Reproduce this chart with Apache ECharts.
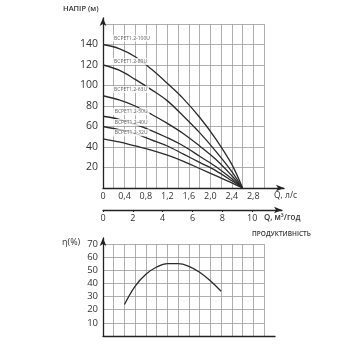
<!DOCTYPE html>
<html><head><meta charset="utf-8">
<script src="https://cdn.jsdelivr.net/npm/echarts@6/dist/echarts.min.js"></script>
<style>html,body{margin:0;padding:0;background:#fff}#c{width:350px;height:350px}</style>
</head><body><div id="c"></div>
<script>
// ---- data ----
const flowQ = [0, 0.3, 0.6, 0.9, 1.2, 1.5, 1.8, 2.1, 2.4, 2.6];
const head100U = [140, 136, 128, 116, 102, 87, 69, 48, 23, 0];
const head80U  = [120, 115, 106, 96, 85, 70, 54, 36, 16, 0];
const head63U  = [90, 86, 80, 72, 63, 53, 41, 28, 12, 0];
const head50U  = [70, 67, 62, 56, 49, 41, 31, 21, 9, 0];
const head40U  = [60, 57, 53, 47, 41, 33, 25, 17, 7, 0];
const head32U  = [48, 45, 41, 37, 32, 26, 19, 12, 5, 0];
const modelNames = ['BCPET1.2-100U','BCPET1.2-80U','BCPET1.2-63U','BCPET1.2-50U','BCPET1.2-40U','BCPET1.2-32U'];
const labelQ = [0.17, 0.17, 0.17, 0.18, 0.18, 0.18];
const labelH = [146, 123.5, 96, 74.5, 64, 54];
const effQ = [0.4, 0.6, 0.8, 1.0, 1.2, 1.4, 1.6, 1.8, 2.0, 2.2];
const effVal = [24, 38, 47, 52.5, 55, 55, 53, 48.5, 42, 34];
const qTicksLs = [0, 0.4, 0.8, 1.2, 1.6, 2.0, 2.4, 2.8];
const qTicksM3 = [0, 2, 4, 6, 8, 10];
const headTicks = [20, 40, 60, 80, 100, 120, 140];
const effTicks = [10, 20, 30, 40, 50, 60, 70];

const heads = [head100U, head80U, head63U, head50U, head40U, head32U];
const FONT = '"Open Sans", sans-serif';
const TXT = '#333';
const GRIDC = '#9a9a9a';
const AX = '#222';

const chart = echarts.init(document.getElementById('c'), null, {renderer:'canvas'});
const fmtQ = v => v === 0 ? '0' : v.toFixed(1).replace('.', ',');
const hidden = {show:false};
const arrowLine = (sym) => ({show:true, lineStyle:{color:AX, width:1.3}, symbol: sym, symbolSize:[5,8]});

const series = [];
heads.forEach((h, i) => {
  series.push({
    type:'line', xAxisIndex:0, yAxisIndex:0, smooth:0.35, showSymbol:false,
    lineStyle:{color:'#2b2b2b', width:1.3}, z:3,
    data: flowQ.map((q, k) => [q, h[k]])
  });
});
series.push({
  type:'scatter', xAxisIndex:0, yAxisIndex:0, symbolSize:0, z:6,
  data: modelNames.map((n, i) => ({value:[labelQ[i], labelH[i]], name:n})),
  label:{show:true, position:'right', distance:0, formatter: p => p.name,
    fontSize:5, fontFamily:FONT, color:TXT, backgroundColor:'#fff', padding:[1,2]}
});
series.push({
  type:'line', xAxisIndex:4, yAxisIndex:4, smooth:0.4, showSymbol:false,
  lineStyle:{color:'#2b2b2b', width:1.3}, z:3,
  data: effQ.map((q, k) => [q, effVal[k]])
});

chart.setOption({
  animation:false,
  grid:[
    {left:103, right:86, top:24, bottom:162},   // 0 head grid
    {left:103, right:66, top:18, bottom:162},   // 1 head arrows
    {left:103, right:68, top:200, height:10},   // 2 m3/h axis
    {left:103, right:75, top:238, bottom:14},   // 3 eff arrows
    {left:103, right:86, top:244, bottom:14}    // 4 eff grid
  ],
  xAxis:[
    {gridIndex:0, type:'value', min:0, max:3.0, interval:0.2,
      axisLine:hidden, axisTick:hidden,
      splitLine:{show:true, lineStyle:{color:GRIDC, width:0.8}},
      axisLabel:{customValues:qTicksLs, formatter:fmtQ, fontSize:9, fontFamily:FONT, color:TXT, margin:4}},
    {gridIndex:1, type:'value', min:0, max:1, axisLine:arrowLine(['none','arrow']),
      axisTick:hidden, axisLabel:hidden, splitLine:hidden},
    {gridIndex:2, type:'value', min:0, max:12, interval:2, position:'bottom',
      axisLine:arrowLine(['none','arrow']),
      axisTick:{show:true, customValues:qTicksM3, length:2, lineStyle:{color:AX}},
      axisLabel:{customValues:qTicksM3, fontSize:9, fontFamily:FONT, color:TXT, margin:4},
      splitLine:hidden},
    {gridIndex:3, type:'value', min:0, max:1, axisLine:{show:true, lineStyle:{color:AX, width:1.3}},
      axisTick:hidden, axisLabel:hidden, splitLine:hidden},
    {gridIndex:4, type:'value', min:0, max:3.0, interval:0.2,
      axisLine:hidden, axisTick:hidden, axisLabel:hidden,
      splitLine:{show:true, lineStyle:{color:GRIDC, width:0.8}}}
  ],
  yAxis:[
    {gridIndex:0, type:'value', min:0, max:160, interval:20,
      axisLine:hidden, axisTick:hidden,
      splitLine:{show:true, lineStyle:{color:GRIDC, width:0.8}},
      axisLabel:{customValues:headTicks, fontSize:10.5, fontFamily:FONT, color:TXT, margin:5}},
    {gridIndex:1, type:'value', min:0, max:1, axisLine:arrowLine(['none','arrow']),
      axisTick:hidden, axisLabel:hidden, splitLine:hidden},
    {gridIndex:2, type:'value', min:0, max:1, show:false},
    {gridIndex:3, type:'value', min:0, max:1, axisLine:arrowLine(['none','arrow']),
      axisTick:hidden, axisLabel:hidden, splitLine:hidden},
    {gridIndex:4, type:'value', min:0, max:70, interval:10,
      axisLine:hidden, axisTick:hidden,
      splitLine:{show:true, lineStyle:{color:GRIDC, width:0.8}},
      axisLabel:{customValues:effTicks, fontSize:9.5, fontFamily:FONT, color:TXT, margin:5}}
  ],
  graphic:[
    {type:'text', left:63, top:5, style:{text:'НАПІР (м)', font:'600 7.5px ' + FONT, fill:TXT}},
    {type:'text', left:274, top:191, style:{text:'Q, л/с', font:'8.5px ' + FONT, fill:TXT}},
    {type:'text', left:264, top:214, style:{text:'Q, м³/год', font:'600 8px ' + FONT, fill:TXT}},
    {type:'text', left:252, top:231, style:{text:'ПРОДУКТИВНІСТЬ', font:'600 6.5px ' + FONT, fill:TXT}},
    {type:'text', left:62, top:238, style:{text:'η(%)', font:'9px ' + FONT, fill:TXT}}
  ],
  series: series
});
</script></body></html>
